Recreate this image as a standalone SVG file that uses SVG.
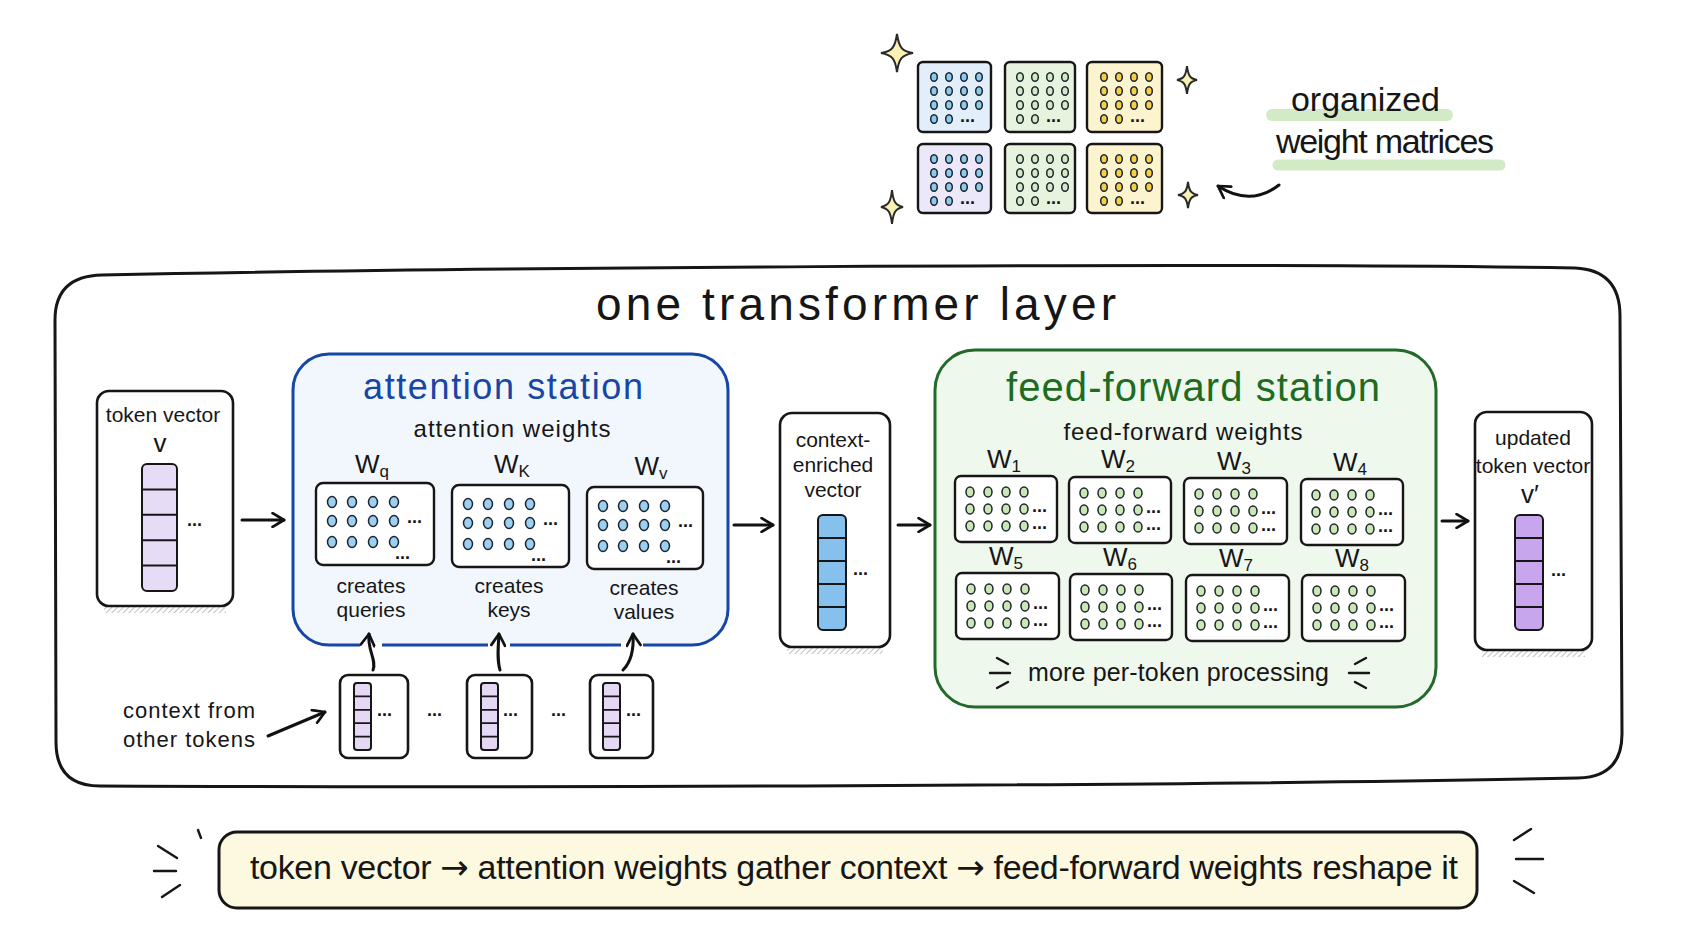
<svg xmlns="http://www.w3.org/2000/svg" width="1691" height="930" viewBox="0 0 1691 930">
  <style>
    text { font-family: "Liberation Sans", Arial, sans-serif; fill: #161616; }
    .ink { fill: none; stroke: #161616; stroke-width: 2.6; stroke-linecap: round; stroke-linejoin: round; }
    .box { fill: #ffffff; stroke: #161616; stroke-width: 2.6; }
    .mx { fill: #ffffff; stroke: #161616; stroke-width: 2.4; }
    .cell { stroke: #161616; stroke-width: 2; }
    .dot { stroke: #1b2430; stroke-width: 1.5; }
    .lbl { font-size: 21px; text-anchor: middle; }
    .w { font-size: 26px; text-anchor: middle; }
    .w tspan { font-size: 17px; }
    .ell { font-size: 18px; font-weight: bold; }
    .to { font-family: "DejaVu Sans", sans-serif; }
    .arrow { fill: none; stroke: #111111; stroke-width: 3; stroke-linecap: round; marker-end: url(#head); }
    .mark { fill: none; stroke: #161616; stroke-width: 2.4; stroke-linecap: round; }
    .shadow { fill: url(#hatch); opacity: 0.75; }
    .star { fill: #fbf1b4; stroke: #2a2a2a; stroke-width: 2; }
  </style>
  <defs>
    <marker id="head" viewBox="0 0 14 14" refX="12" refY="7" markerWidth="16" markerHeight="16" markerUnits="userSpaceOnUse" orient="auto">
      <path d="M2,1 L12,7 L2,13" fill="none" stroke="#111111" stroke-width="2.4" stroke-linecap="round" stroke-linejoin="round"/>
    </marker>
    <pattern id="hatch" width="4" height="4" patternUnits="userSpaceOnUse" patternTransform="rotate(45)">
      <line x1="0" y1="0" x2="0" y2="4" stroke="#7d7d7d" stroke-width="1.3"/>
    </pattern>
    <!-- 4-point sparkle, unit size -->
    <path id="sparkle" d="M0,-1 C0.12,-0.3 0.3,-0.1 1,0 C0.3,0.1 0.12,0.3 0,1 C-0.12,0.3 -0.3,0.1 -1,0 C-0.3,-0.1 -0.12,-0.3 0,-1 Z" vector-effect="non-scaling-stroke"/>
    <!-- 3x4 grid used in the attention matrices -->
    <g id="attnDots">
      <ellipse class="dot" cx="16" cy="19" rx="4.5" ry="5.5"/><ellipse class="dot" cx="36" cy="19" rx="4.5" ry="5.5"/><ellipse class="dot" cx="57" cy="19" rx="4.5" ry="5.5"/><ellipse class="dot" cx="78" cy="19" rx="4.5" ry="5.5"/>
      <ellipse class="dot" cx="16" cy="38" rx="4.5" ry="5.5"/><ellipse class="dot" cx="36" cy="38" rx="4.5" ry="5.5"/><ellipse class="dot" cx="57" cy="38" rx="4.5" ry="5.5"/><ellipse class="dot" cx="78" cy="38" rx="4.5" ry="5.5"/>
      <ellipse class="dot" cx="16" cy="59" rx="4.5" ry="5.5"/><ellipse class="dot" cx="36" cy="59" rx="4.5" ry="5.5"/><ellipse class="dot" cx="57" cy="59" rx="4.5" ry="5.5"/><ellipse class="dot" cx="78" cy="59" rx="4.5" ry="5.5"/>
      <text class="ell" x="91" y="40">...</text>
      <text class="ell" x="79" y="76">...</text>
    </g>
    <!-- 3x4 grid used in the feed-forward matrices -->
    <g id="ffDots">
      <ellipse class="dot" cx="15" cy="16" rx="4" ry="5"/><ellipse class="dot" cx="33" cy="16" rx="4" ry="5"/><ellipse class="dot" cx="51" cy="16" rx="4" ry="5"/><ellipse class="dot" cx="69" cy="16" rx="4" ry="5"/>
      <ellipse class="dot" cx="15" cy="33" rx="4" ry="5"/><ellipse class="dot" cx="33" cy="33" rx="4" ry="5"/><ellipse class="dot" cx="51" cy="33" rx="4" ry="5"/><ellipse class="dot" cx="69" cy="33" rx="4" ry="5"/>
      <ellipse class="dot" cx="15" cy="50" rx="4" ry="5"/><ellipse class="dot" cx="33" cy="50" rx="4" ry="5"/><ellipse class="dot" cx="51" cy="50" rx="4" ry="5"/><ellipse class="dot" cx="69" cy="50" rx="4" ry="5"/>
      <text class="ell" x="77" y="36">...</text>
      <text class="ell" x="77" y="53">...</text>
    </g>
    <!-- 4x4 grid used in the small matrices at the top -->
    <g id="topDots">
      <ellipse class="dot" cx="16" cy="15" rx="3.3" ry="4.3"/><ellipse class="dot" cx="31" cy="15" rx="3.3" ry="4.3"/><ellipse class="dot" cx="46" cy="15" rx="3.3" ry="4.3"/><ellipse class="dot" cx="61" cy="15" rx="3.3" ry="4.3"/>
      <ellipse class="dot" cx="16" cy="29" rx="3.3" ry="4.3"/><ellipse class="dot" cx="31" cy="29" rx="3.3" ry="4.3"/><ellipse class="dot" cx="46" cy="29" rx="3.3" ry="4.3"/><ellipse class="dot" cx="61" cy="29" rx="3.3" ry="4.3"/>
      <ellipse class="dot" cx="16" cy="43" rx="3.3" ry="4.3"/><ellipse class="dot" cx="31" cy="43" rx="3.3" ry="4.3"/><ellipse class="dot" cx="46" cy="43" rx="3.3" ry="4.3"/><ellipse class="dot" cx="61" cy="43" rx="3.3" ry="4.3"/>
      <ellipse class="dot" cx="16" cy="57" rx="3.3" ry="4.3"/><ellipse class="dot" cx="31" cy="57" rx="3.3" ry="4.3"/>
      <text class="ell" x="42" y="60" font-size="15">...</text>
    </g>
  </defs>

  <rect width="1691" height="930" fill="#ffffff"/>

  <!-- weight matrix showcase -->
  <g id="weight-showcase">
    <rect class="mx" x="918" y="62" width="73" height="70" rx="5" style="fill:#e3eefb"/>
    <use href="#topDots" x="918" y="62" fill="#8ec9ee"/>
    <rect class="mx" x="1005" y="62" width="70" height="70" rx="5" style="fill:#e8f3df"/>
    <use href="#topDots" x="1004" y="62" fill="#d4ebc2"/>
    <rect class="mx" x="1087" y="62" width="75" height="70" rx="5" style="fill:#fcf4cf"/>
    <use href="#topDots" x="1088" y="62" fill="#f5cf45"/>
    <rect class="mx" x="918" y="144" width="73" height="69" rx="5" style="fill:#ebe8f9"/>
    <use href="#topDots" x="918" y="144" fill="#8ec9ee"/>
    <rect class="mx" x="1005" y="144" width="70" height="69" rx="5" style="fill:#e8f3df"/>
    <use href="#topDots" x="1004" y="144" fill="#d4ebc2"/>
    <rect class="mx" x="1087" y="144" width="75" height="69" rx="5" style="fill:#fcf4cf"/>
    <use href="#topDots" x="1088" y="144" fill="#f5cf45"/>
    <use href="#sparkle" class="star" transform="translate(897,53) scale(16,19)"/>
    <use href="#sparkle" class="star" transform="translate(1187,80) scale(10,14)"/>
    <use href="#sparkle" class="star" transform="translate(892,207) scale(11,17)"/>
    <use href="#sparkle" class="star" transform="translate(1188,195) scale(10,13)"/>
  </g>

  <g id="weight-caption">
    <line x1="1272" y1="115" x2="1447" y2="115" stroke="#cfe8c0" stroke-width="12" stroke-linecap="round" opacity="0.9"/>
    <line x1="1278" y1="165" x2="1500" y2="165" stroke="#cfe8c0" stroke-width="11" stroke-linecap="round" opacity="0.9"/>
    <text x="1291" y="111" font-size="34" textLength="149">organized</text>
    <text x="1276" y="153" font-size="34" textLength="218">weight matrices</text>
  </g>

  <!-- the transformer layer frame -->
  <g id="layer">
    <path class="ink" style="stroke-width:3" d="M102,275 C420,268 1200,262 1575,268 Q1620,270 1620,316 L1622,734 Q1622,777 1578,778 C1200,786 500,788 100,786 Q56,786 56,742 L55,320 Q55,276 102,275 Z"/>
    <text x="856" y="320" font-size="46" text-anchor="middle" textLength="520">one transformer layer</text>
  </g>

  <g id="token-vector">
    <rect class="shadow" x="104" y="607" width="122" height="6"/>
    <rect class="box" x="97" y="391" width="136" height="215" rx="12"/>
    <text class="lbl" x="163" y="422" font-size="20">token vector</text>
    <text x="160" y="452" font-size="26" text-anchor="middle">v</text>
    <rect class="cell" x="142" y="464" width="35" height="127" rx="5" fill="#e6dcf6"/>
    <path class="ink" style="stroke-width:2" d="M142,489.4 H177 M142,514.8 H177 M142,540.2 H177 M142,565.6 H177"/>
    <text class="ell" x="187" y="526">...</text>
  </g>

  <g id="attention-station">
    <rect x="293" y="354" width="435" height="291" rx="36" fill="#f2f7fe" stroke="#1747a6" stroke-width="3"/>
    <text x="503" y="399" font-size="36" text-anchor="middle" textLength="280" style="fill:#1747a6">attention station</text>
    <text x="512" y="437" font-size="24" text-anchor="middle" textLength="197">attention weights</text>

    <g id="wq">
      <text class="w" x="372" y="473">W<tspan dy="4">q</tspan></text>
      <rect class="mx" x="316" y="483" width="118" height="82" rx="7"/>
      <use href="#attnDots" x="316" y="483" fill="#9dd0f0"/>
      <text class="lbl" x="371" y="593">creates</text>
      <text class="lbl" x="371" y="617">queries</text>
    </g>
    <g id="wk">
      <text class="w" x="512" y="473">W<tspan dy="4">K</tspan></text>
      <rect class="mx" x="452" y="485" width="117" height="82" rx="7"/>
      <use href="#attnDots" x="452" y="485" fill="#9dd0f0"/>
      <text class="lbl" x="509" y="593">creates</text>
      <text class="lbl" x="509" y="617">keys</text>
    </g>
    <g id="wv">
      <text class="w" x="651" y="475">W<tspan dy="4">v</tspan></text>
      <rect class="mx" x="587" y="487" width="116" height="82" rx="7"/>
      <use href="#attnDots" x="587" y="487" fill="#9dd0f0"/>
      <text class="lbl" x="644" y="595">creates</text>
      <text class="lbl" x="644" y="619">values</text>
    </g>
  </g>

  <g id="context-tokens">
    <text x="123" y="718" font-size="22" textLength="132">context from</text>
    <text x="123" y="747" font-size="22" textLength="132">other tokens</text>
    <g id="ctx-token-1">
      <rect class="box" x="340" y="675" width="68" height="83" rx="8"/>
      <rect class="cell" x="354" y="683" width="17" height="67" rx="3" fill="#e4d8f5"/>
      <path class="ink" style="stroke-width:1.8" d="M354,696.4 H371 M354,709.8 H371 M354,723.2 H371 M354,736.6 H371"/>
      <text class="ell" x="377" y="716" font-size="16">...</text>
    </g>
    <text class="ell" x="427" y="716" font-size="22">...</text>
    <g id="ctx-token-2">
      <rect class="box" x="467" y="675" width="65" height="83" rx="8"/>
      <rect class="cell" x="481" y="683" width="17" height="67" rx="3" fill="#e4d8f5"/>
      <path class="ink" style="stroke-width:1.8" d="M481,696.4 H498 M481,709.8 H498 M481,723.2 H498 M481,736.6 H498"/>
      <text class="ell" x="503" y="716" font-size="16">...</text>
    </g>
    <text class="ell" x="551" y="716" font-size="22">...</text>
    <g id="ctx-token-3">
      <rect class="box" x="590" y="675" width="63" height="83" rx="8"/>
      <rect class="cell" x="603" y="683" width="17" height="67" rx="3" fill="#e4d8f5"/>
      <path class="ink" style="stroke-width:1.8" d="M603,696.4 H620 M603,709.8 H620 M603,723.2 H620 M603,736.6 H620"/>
      <text class="ell" x="626" y="716" font-size="16">...</text>
    </g>
  </g>

  <g id="context-enriched-vector">
    <rect class="shadow" x="787" y="648" width="96" height="6"/>
    <rect class="box" x="780" y="413" width="110" height="234" rx="12"/>
    <text class="lbl" x="833" y="447">context-</text>
    <text class="lbl" x="833" y="472">enriched</text>
    <text class="lbl" x="833" y="497">vector</text>
    <rect class="cell" x="818" y="515" width="28" height="115" rx="5" fill="#86c1ee"/>
    <path class="ink" style="stroke-width:2" d="M818,538 H846 M818,561 H846 M818,584 H846 M818,607 H846"/>
    <text class="ell" x="853" y="575">...</text>
  </g>

  <g id="feed-forward-station">
    <rect x="935" y="350" width="501" height="357" rx="40" fill="#eff8ec" stroke="#22692a" stroke-width="3"/>
    <text x="1193" y="401" font-size="40" text-anchor="middle" textLength="374" style="fill:#1e6b22">feed-forward station</text>
    <text x="1183" y="440" font-size="24" text-anchor="middle" textLength="239">feed-forward weights</text>

    <g id="w1"><text class="w" x="1004" y="468">W<tspan dy="4">1</tspan></text><rect class="mx" x="955" y="476" width="102" height="66" rx="6"/><use href="#ffDots" x="955" y="476" fill="#cbe8b4"/></g>
    <g id="w2"><text class="w" x="1118" y="468">W<tspan dy="4">2</tspan></text><rect class="mx" x="1069" y="477" width="102" height="66" rx="6"/><use href="#ffDots" x="1069" y="477" fill="#cbe8b4"/></g>
    <g id="w3"><text class="w" x="1234" y="470">W<tspan dy="4">3</tspan></text><rect class="mx" x="1184" y="478" width="103" height="66" rx="6"/><use href="#ffDots" x="1184" y="478" fill="#cbe8b4"/></g>
    <g id="w4"><text class="w" x="1350" y="471">W<tspan dy="4">4</tspan></text><rect class="mx" x="1301" y="479" width="102" height="66" rx="6"/><use href="#ffDots" x="1301" y="479" fill="#cbe8b4"/></g>
    <g id="w5"><text class="w" x="1006" y="565">W<tspan dy="4">5</tspan></text><rect class="mx" x="956" y="573" width="103" height="66" rx="6"/><use href="#ffDots" x="956" y="573" fill="#cbe8b4"/></g>
    <g id="w6"><text class="w" x="1120" y="566">W<tspan dy="4">6</tspan></text><rect class="mx" x="1070" y="574" width="102" height="66" rx="6"/><use href="#ffDots" x="1070" y="574" fill="#cbe8b4"/></g>
    <g id="w7"><text class="w" x="1236" y="567">W<tspan dy="4">7</tspan></text><rect class="mx" x="1186" y="575" width="103" height="66" rx="6"/><use href="#ffDots" x="1186" y="575" fill="#cbe8b4"/></g>
    <g id="w8"><text class="w" x="1352" y="567">W<tspan dy="4">8</tspan></text><rect class="mx" x="1302" y="575" width="103" height="66" rx="6"/><use href="#ffDots" x="1302" y="575" fill="#cbe8b4"/></g>

    <path class="mark" d="M997,658 L1008,664 M990,673 L1010,673 M997,688 L1008,682"/>
    <path class="mark" d="M1366,658 L1355,664 M1349,673 L1369,673 M1366,688 L1355,682"/>
    <text x="1028" y="681" font-size="25" textLength="301">more per-token processing</text>
  </g>

  <g id="updated-token-vector">
    <rect class="shadow" x="1482" y="651" width="103" height="6"/>
    <rect class="box" x="1475" y="412" width="117" height="238" rx="12"/>
    <text class="lbl" x="1533" y="445">updated</text>
    <text class="lbl" x="1533" y="473" font-size="18">token vector</text>
    <text x="1530" y="503" font-size="26" text-anchor="middle">v′</text>
    <rect class="cell" x="1515" y="515" width="28" height="115" rx="5" fill="#c7a6ee"/>
    <path class="ink" style="stroke-width:2" d="M1515,538 H1543 M1515,561 H1543 M1515,584 H1543 M1515,607 H1543"/>
    <text class="ell" x="1551" y="576">...</text>
  </g>

  <g id="summary-banner">
    <rect x="219" y="832" width="1258" height="76" rx="18" fill="#fdf9e0" stroke="#161616" stroke-width="3"/>
    <text x="854" y="879" font-size="34" text-anchor="middle" textLength="1208">token vector <tspan class="to">→</tspan> attention weights gather context <tspan class="to">→</tspan> feed-forward weights reshape it</text>
    <path class="mark" d="M198,830 L201,838 M158,846 L177,858 M154,871 L176,871 M162,897 L180,885"/>
    <path class="mark" d="M1514,840 L1531,829 M1516,859 L1543,859 M1514,881 L1534,893"/>
  </g>

  <!-- connectors -->
  <g id="connectors">
    <path class="arrow" d="M242,520 L284,520"/>
    <path class="arrow" d="M734,525 L773,525"/>
    <path class="arrow" d="M898,525 L930,525"/>
    <path class="arrow" d="M1442,521 L1468,521"/>
    <!-- gaps in the station border where the context arrows enter -->
    <path d="M360,645 H382 M488,645 H510 M621,645 H643" stroke="#ffffff" stroke-width="6"/>
    <path class="arrow" d="M373,670 C377,660 367,650 369,634"/>
    <path class="arrow" d="M500,670 C497,660 498,648 499,634"/>
    <path class="arrow" d="M623,670 C631,662 634,650 633,634"/>
    <path class="arrow" d="M268,736 L325,712"/>
    <path class="arrow" d="M1279,185 Q1250,207 1218,186"/>
  </g>
</svg>
